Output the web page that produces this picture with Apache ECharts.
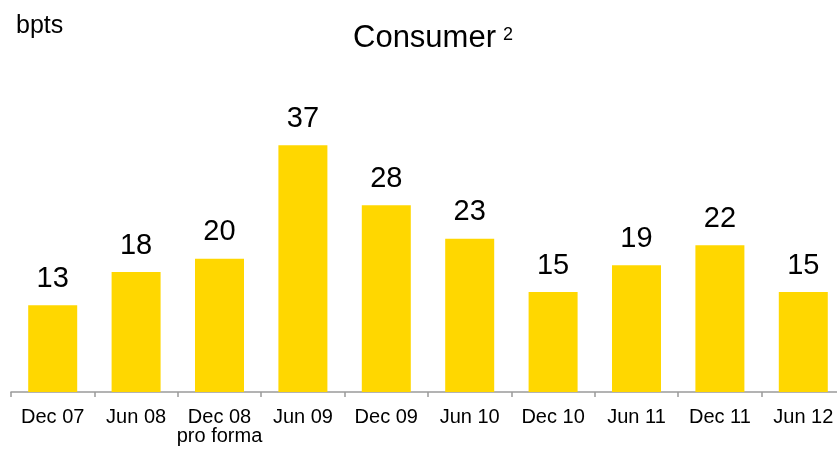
<!DOCTYPE html>
<html>
	<head>
		<meta charset="UTF-8" />
		<title>Consumer</title>
		<script src="https://cdn.jsdelivr.net/npm/echarts@6/dist/echarts.min.js"></script>
		<style>
			html, body { margin: 0; padding: 0; background: #fff; overflow: hidden; }
			/* 原图右侧被裁掉一部分，所以画布比窗口宽一点 */
			#pic { width: 845px; height: 455px; }
		</style>
	</head>
	<body>
		<div id="pic"></div>
		<script>
			// 数据
			var categories = ['Dec 07', 'Jun 08', 'Dec 08\npro forma', 'Jun 09', 'Dec 09', 'Jun 10', 'Dec 10', 'Jun 11', 'Dec 11', 'Jun 12'];
			var values = [13, 18, 20, 37, 28, 23, 15, 19, 22, 15];

			var myChart = echarts.init(document.getElementById('pic'));
			myChart.setOption({
				backgroundColor: '#fff',
				animation: false,
				textStyle: { fontFamily: 'Liberation Sans, Arial, sans-serif' },
				title: [{
					text: 'Consumer{sup|2}',
					left: 348,
					top: 18,
					textStyle: {
						fontFamily: 'Liberation Sans',
						fontSize: 31,
						fontWeight: 'normal',
						color: '#000',
						rich: {
							// 上标
							sup: { fontFamily: 'Liberation Sans', fontSize: 18, color: '#000', verticalAlign: 'top', padding: [3, 0, 0, 7] }
						}
					}
				}, {
					text: 'bpts',
					left: 11,
					top: 9,
					textStyle: { fontFamily: 'Liberation Sans', fontSize: 25, fontWeight: 'normal', color: '#000' }
				}],
				grid: { left: 11, right: 0, top: 92, bottom: 63, containLabel: false },
				xAxis: {
					type: 'category',
					data: categories,
					axisLine: { lineStyle: { color: '#9a9a9a', width: 1.5 } },
					axisTick: { show: true, length: 5, lineStyle: { color: '#9a9a9a', width: 1.5 } },
					axisLabel: { color: '#000', fontSize: 20, margin: 16, lineHeight: 19, interval: 0 }
				},
				yAxis: {
					type: 'value',
					min: 0,
					max: 45,
					show: false,
					splitLine: { show: false }
				},
				series: [{
					type: 'bar',
					data: values,
					barWidth: 49,
					itemStyle: { color: '#FFD700' },
					label: {
						show: true,
						position: 'top',
						distance: 12,
						color: '#000',
						fontSize: 29
					}
				}]
			});
		</script>
	</body>
</html>
